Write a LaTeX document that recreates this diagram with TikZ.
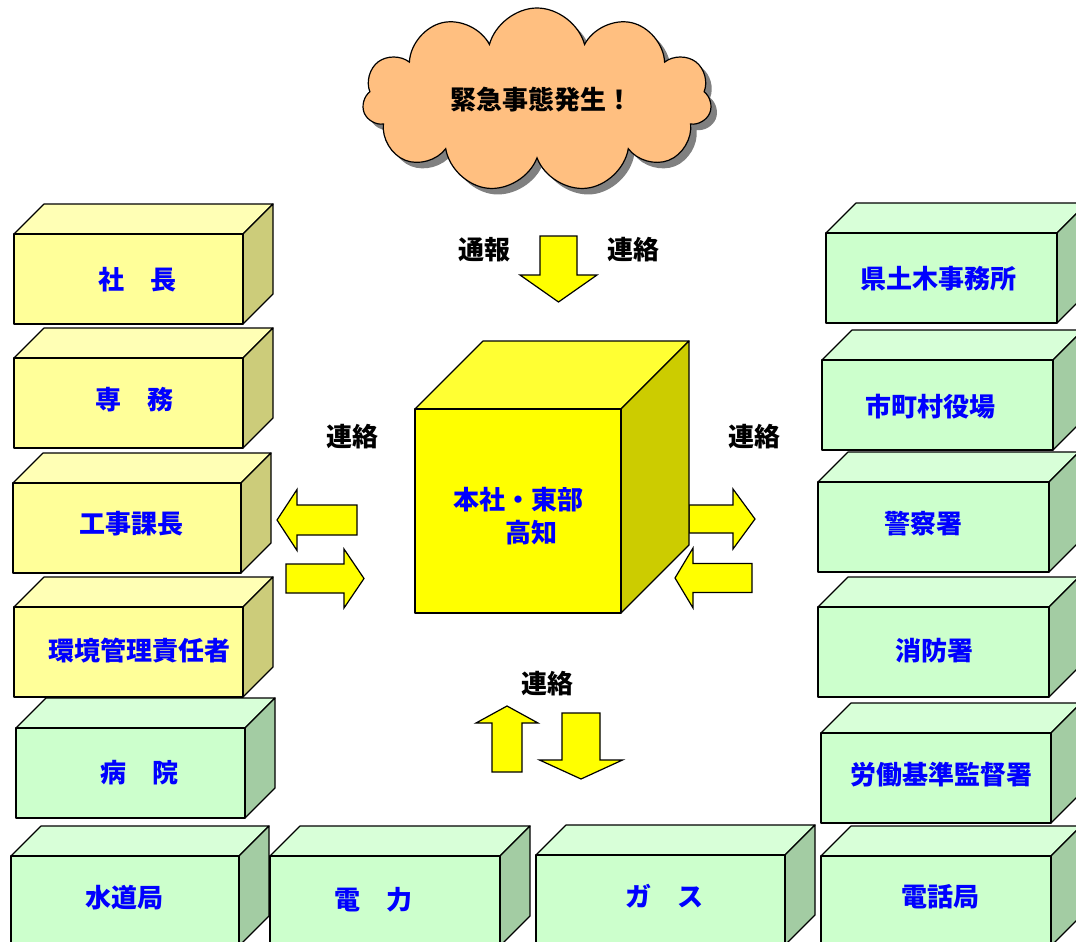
\documentclass[tikz,border=0pt]{standalone}
\usepackage{fontspec}
\newfontfamily\jp{Noto Sans CJK JP}
\usetikzlibrary{shapes.symbols,shadows}

\definecolor{yelfront}{HTML}{FFFF99}
\definecolor{yeltop}{HTML}{FFFFB5}
\definecolor{yelside}{HTML}{CCCC7A}
\definecolor{grnfront}{HTML}{CCFFCC}
\definecolor{grntop}{HTML}{D8FFD8}
\definecolor{grnside}{HTML}{A3CCA3}
\definecolor{cubefront}{HTML}{FFFF00}
\definecolor{cubetop}{HTML}{FFFF33}
\definecolor{cubeside}{HTML}{CCCC00}
\definecolor{cloudfill}{HTML}{FFBF80}
\definecolor{labelblue}{HTML}{0000FF}

\tikzset{
  face/.style={draw=black, line width=1.2pt, line join=round},
  boxtext/.style={font=\jp\bfseries\fontsize{26}{33}\selectfont, text=labelblue, inner sep=0pt},
  talk/.style={font=\jp\bfseries\fontsize{26}{33}\selectfont, inner sep=0pt},
  bigarrow/.style={draw=black, fill=cubefront, line width=1.2pt, line join=miter},
  pics/fatarrow/.style n args={4}{code={
    \path[bigarrow] (0,-#2) -- (#1-#4,-#2) -- (#1-#4,-#3) -- (#1,0)
      -- (#1-#4,#3) -- (#1-#4,#2) -- (0,#2) -- cycle;}}
}

\begin{document}
\begin{tikzpicture}[x=1pt, y=-1pt]
  \useasboundingbox (0,0) rectangle (1076,942);
  \clip (0,0) rectangle (1076,942);

  % the cloud
  \node[cloud, cloud puffs=11, aspect=1.9, draw, fill=cloudfill, line width=1.2pt,
    minimum width=349pt, minimum height=184pt, inner sep=0pt,
    drop shadow={shadow xshift=6pt, shadow yshift=-6pt, fill=black!50, opacity=1}]
    (alarm) at (537,100) {};
  \node[talk] (alarmtext) at (541,100) {緊急事態発生！};

  % the boxes round the edge
  \foreach \nm/\x/\y/\w/\col/\tx/\ty/\txt in {
      shacho/14/234/229/yel/137.5/280/社　長,
      senmu/14/358/229/yel/134.5/400/専　務,
      kachou/13/483/228/yel/131/524/工事課長,
      kankyo/14/607/229/yel/139/651/環境管理責任者,
      byoin/16/728/229/grn/139.5/773/病　院,
      suido/11/856/228/grn/124/898/水道局,
      denryoku/270/856/230/grn/373.5/900/電　力,
      gas/536/855/249/grn/664/896/ガ　ス,
      denwa/821/856/230/grn/940/897/電話局,
      roudou/821/733/230/grn/941.5/775/労働基準監督署,
      shoubou/818/607/231/grn/934.5/651/消防署,
      keisatsu/818/482/231/grn/923.5/524/警察署,
      shichoson/822/360/231/grn/930.5/407/市町村役場,
      kendoboku/826/233/231/grn/938.5/279/県土木事務所}{
    \coordinate (\nm-box) at (\x,\y);
    \path[face, fill=\col top] (\nm-box) -- ++(30,-30) -- ++(\w,0) -- ++(-30,30) -- cycle;
    \path[face, fill=\col side] (\nm-box) ++(\w,0) -- ++(30,-30) -- ++(0,90) -- ++(-30,30) -- cycle;
    \path[face, fill=\col front] (\nm-box) rectangle ++(\w,90);
    \node[boxtext] (\nm) at (\tx,\ty) {\txt};
  }

  % arrows
  \pic (callin) [rotate=-90] at (558.5,236) {fatarrow={66}{18.5}{38.5}{27}};
  \pic (toleft) [rotate=180] at (357,520) {fatarrow={80}{15}{30.5}{20}};
  \pic (fromleft) at (286,578.5) {fatarrow={78}{14.5}{29.5}{20}};
  \pic (toright) at (689,519) {fatarrow={66}{14}{30}{22}};
  \pic (fromright) [rotate=180] at (752,578) {fatarrow={77}{14.5}{30}{18}};
  \pic (fromdown) [rotate=90] at (507,772) {fatarrow={66}{15}{31}{17}};
  \pic (todown) [rotate=-90] at (581,713) {fatarrow={66}{19}{41.5}{19}};

  % head office
  \coordinate (hq) at (415,409);
  \path[face, fill=cubetop] (hq) -- ++(68,-68) -- ++(206,0) -- ++(-68,68) -- cycle;
  \path[face, fill=cubeside] (hq) ++(206,0) -- ++(68,-68) -- ++(0,204) -- ++(-68,68) -- cycle;
  \path[face, fill=cubefront] (hq) rectangle ++(206,204);
  \node[boxtext, align=left] (hqtext) at (518,516.5) {本社・東部\\\hspace*{2em}高知};

  \node[talk] (report) at (484,250) {通報};
  \node[talk] (contact-top) at (633,250) {連絡};
  \node[talk] (contact-left) at (352,437) {連絡};
  \node[talk] (contact-right) at (754,437) {連絡};
  \node[talk] (contact-bottom) at (547,684) {連絡};
\end{tikzpicture}
\end{document}
